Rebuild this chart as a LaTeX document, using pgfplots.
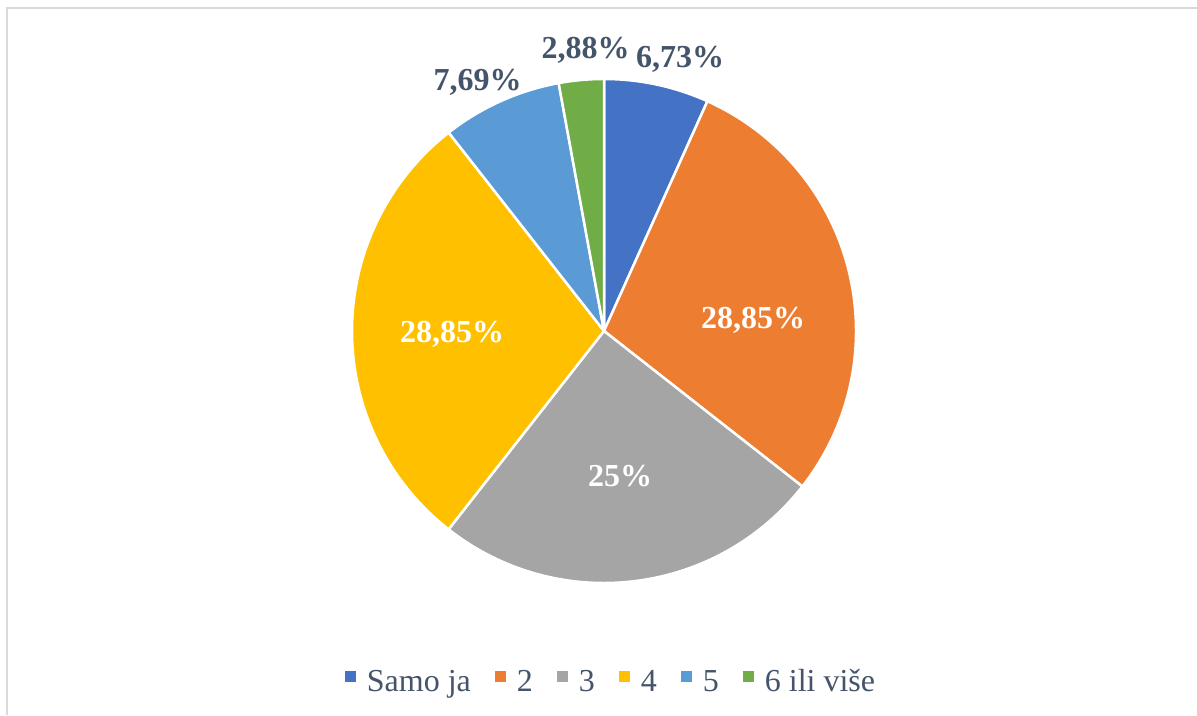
\documentclass[border=0pt]{standalone}
\usepackage{fontspec}
\setmainfont{Liberation Serif}
\usepackage{pgfplots}
\pgfplotsset{compat=1.18}
\definecolor{c1}{HTML}{4472C4}
\definecolor{c2}{HTML}{ED7D31}
\definecolor{c3}{HTML}{A5A5A5}
\definecolor{c4}{HTML}{FFC000}
\definecolor{c5}{HTML}{5B9BD5}
\definecolor{c6}{HTML}{70AD47}
\definecolor{lbl}{HTML}{44546A}
\definecolor{frame}{HTML}{D9D9D9}
\begin{document}
\begin{tikzpicture}
\useasboundingbox (0,0) rectangle (1197pt,715pt);
\fill[white] (0,0) rectangle (1197pt,715pt);
\draw[frame, line width=1.6pt] (7pt,0pt) -- (7pt,707pt) -- (1197pt,707pt);
\begin{axis}[
  at={(0pt,0pt)}, anchor=south west,
  scale only axis, width=1197pt, height=715pt,
  xmin=0, xmax=1197, ymin=0, ymax=715,
  hide axis, clip=false,
  legend columns=6,
  legend image code/.code={\fill[#1, draw=none] (0pt,-1pt) rectangle (11pt,10pt);},
  legend style={
    at={(axis description cs:0.5096,0.0469)}, anchor=center,
    draw=none, fill=none, inner sep=0pt,
    font=\fontsize{32}{37}\selectfont, text=lbl,
    nodes={inner sep=0pt},
    /tikz/every odd column/.append style={column sep=11pt},
    /tikz/every even column/.append style={column sep=24pt},
  },
]
\addplot[fill=c1, draw=white, line width=2.5pt, line join=round] coordinates {(604,384) (604,636)}
  arc[start angle=90, end angle=65.772, radius=252pt] -- cycle;
\addplot[fill=c2, draw=white, line width=2.5pt, line join=round] coordinates {(604,384) (707.42,613.80)}
  arc[start angle=65.772, end angle=-38.088, radius=252pt] -- cycle;
\addplot[fill=c3, draw=white, line width=2.5pt, line join=round] coordinates {(604,384) (802.34,228.55)}
  arc[start angle=-38.088, end angle=-128.088, radius=252pt] -- cycle;
\addplot[fill=c4, draw=white, line width=2.5pt, line join=round] coordinates {(604,384) (448.55,185.66)}
  arc[start angle=-128.088, end angle=-231.948, radius=252pt] -- cycle;
\addplot[fill=c5, draw=white, line width=2.5pt, line join=round] coordinates {(604,384) (448.67,582.44)}
  arc[start angle=-231.948, end angle=-259.632, radius=252pt] -- cycle;
\addplot[fill=c6, draw=white, line width=2.5pt, line join=round] coordinates {(604,384) (558.65,631.89)}
  arc[start angle=-259.632, end angle=-270, radius=252pt] -- cycle;
\legend{Samo ja, 2, 3, 4, 5, 6 ili više}
\begin{scope}[every node/.style={font=\bfseries\fontsize{32}{37}\selectfont, inner sep=0pt, anchor=base}]
\node[text=lbl] at (axis cs:680,647) {6,73\%};
\node[text=white] at (axis cs:753,386) {28,85\%};
\node[text=white] at (axis cs:620,228) {25\%};
\node[text=white] at (axis cs:452,372.3) {28,85\%};
\node[text=lbl] at (axis cs:477.5,624) {7,69\%};
\node[text=lbl] at (axis cs:585.5,656) {2,88\%};
\end{scope}
\end{axis}
\end{tikzpicture}
\end{document}
